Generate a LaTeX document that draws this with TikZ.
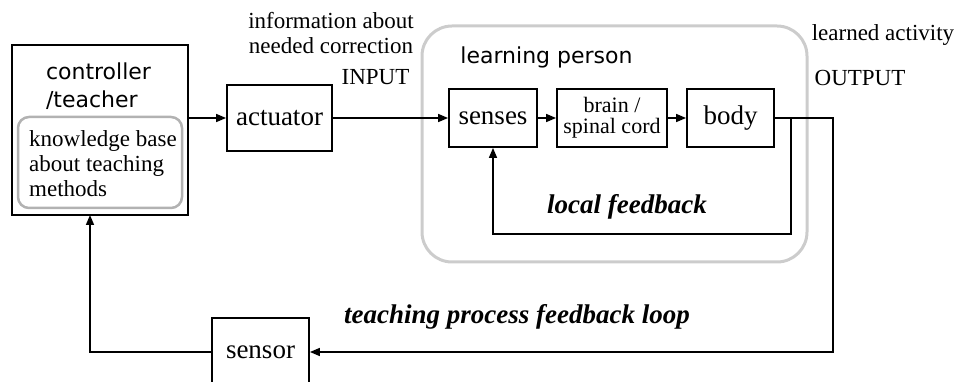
\documentclass[tikz,border=0pt]{standalone}
\usepackage{fontspec}
\setmainfont{Liberation Serif}
\newfontfamily\headsans{DejaVu Sans}
\usetikzlibrary{arrows.meta}

\begin{document}
\begin{tikzpicture}[x=1pt,y=-1pt,
  blk/.style={draw, line width=1.8pt, inner sep=0pt, font=\fontsize{27}{28}\selectfont},
  grp/.style={draw=black!20, line width=3pt, rounded corners=30pt, inner sep=0pt},
  kbox/.style={draw=black!30, line width=2.5pt, rounded corners=11pt},
  lnk/.style={line width=1.5pt},
  arr/.style={lnk, -{Triangle[length=10pt,width=8pt]}},
  note/.style={font=\fontsize{23}{25}\selectfont, inner sep=0pt},
  small/.style={font=\fontsize{22}{21}\selectfont, align=center, inner sep=0pt},
  head/.style={font=\headsans\fontsize{22}{28}\selectfont, inner sep=0pt, align=left},
  loopname/.style={font=\bfseries\itshape\fontsize{27}{28}\selectfont, inner sep=0pt}]
\useasboundingbox (0,0) rectangle (954,382);
\clip (0,0) rectangle (954,382);

% controller with its knowledge base
\node[blk, minimum width=176pt, minimum height=170pt] (ctrl) at (100,130) {};
\node[head] (ctrltxt) at (98.5,86) {controller\\/teacher};
\draw[kbox] (18,117) rectangle (182,208);
\node[note, align=left] (kb) at (103,164) {knowledge base\\about teaching\\methods};

% learning person group
\node[grp, minimum width=385pt, minimum height=236pt] (lp) at (614.5,144) {};
\node[head] (lptxt) at (546.5,57) {learning person};

% blocks
\node[blk, minimum width=105pt, minimum height=66pt] (act) at (279.5,118) {actuator};
\node[blk, minimum width=88pt, minimum height=58pt] (sens) at (493,118) {senses};
\node[blk, minimum width=110pt, minimum height=58pt, small] (brain) at (612,118) {brain /\\spinal cord};
\node[blk, minimum width=87pt, minimum height=58pt] (body) at (730.5,118) {body};
\node[blk, minimum width=97pt, minimum height=68pt] (sensor) at (260.5,352) {sensor};

% labels
\node[note, align=center] (info) at (331,33) {information about\\needed correction};
\node[note] (inlbl) at (375.5,77) {INPUT};
\node[note] (learned) at (883,35) {learned activity};
\node[note] (outlbl) at (860,78) {OUTPUT};
\node[loopname] (lfbtxt) at (627,207) {local feedback};
\node[loopname] (tfbtxt) at (517,317) {teaching process feedback loop};

% turning points
\coordinate (lfb) at (791,234);
\coordinate (outc) at (833,352);
\coordinate (up) at (90,215);

% connectors
\draw[arr] (act.west -| ctrl.east) -- (act.west);
\draw[arr] (act.east) -- (sens.west);
\draw[arr] (sens.east) -- (brain.west);
\draw[arr] (brain.east) -- (body.west);
\draw[arr] (body.east) -| (lfb) -| (sens.south);
\draw[arr] (body.east) -| (outc) -- (sensor.east);
\draw[arr] (sensor.west) -| (up);
\end{tikzpicture}
\end{document}
